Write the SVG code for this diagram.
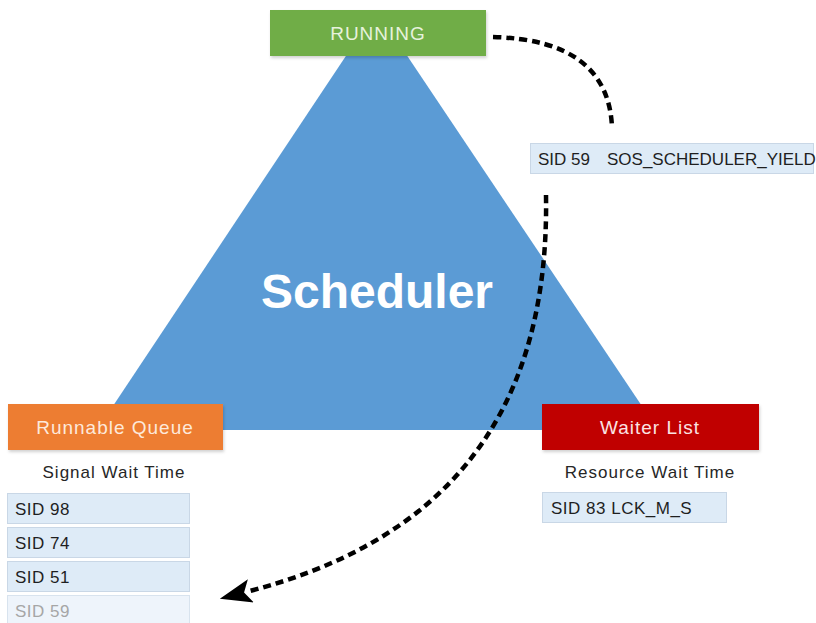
<svg xmlns="http://www.w3.org/2000/svg" width="816" height="623" viewBox="0 0 816 623">
<style>
  text { font-family: "Liberation Sans", Arial, sans-serif; }
  .hdr { font-size: 19px; letter-spacing: 1px; text-anchor: middle; }
  .cap { font-size: 17px; letter-spacing: 1px; fill: #262626; text-anchor: middle; }
  .sid { font-size: 17px; fill: #1f1f1f; letter-spacing: 0.5px; }
  .row { fill: #deebf7; stroke: #c9d7e6; stroke-width: 1; }
  .dash { fill: none; stroke: #000; stroke-width: 4.5; stroke-dasharray: 8 5; stroke-linecap: butt; }
</style>
<defs>
  <filter id="sh" x="-10%" y="-20%" width="120%" height="150%">
    <feDropShadow dx="1" dy="2" stdDeviation="1.5" flood-color="#000" flood-opacity="0.18"/>
  </filter>
  <marker id="arr" viewBox="0 0 32 24" refX="5" refY="12" markerWidth="32" markerHeight="24" markerUnits="userSpaceOnUse" orient="auto">
    <path d="M0,0 L32,12 L0,24 L7,12 z" fill="#000"/>
  </marker>
</defs>
<rect width="816" height="623" fill="#fff"/>

<g id="scheduler">
  <polygon points="376.5,10 97,430 658,430" fill="#5b9bd5"/>
  <text x="377" y="308" text-anchor="middle" font-size="48" font-weight="bold" fill="#fff">Scheduler</text>
</g>

<g id="running">
  <rect x="270" y="10" width="216" height="46" fill="#70ad47" filter="url(#sh)"/>
  <text class="hdr" x="378" y="40" fill="#e6f2dc" letter-spacing="0.5">RUNNING</text>
</g>

<g id="runnable-queue">
  <rect x="8" y="404" width="215" height="46" fill="#ed7d31" filter="url(#sh)"/>
  <text class="hdr" x="115" y="434" fill="#fde9db">Runnable Queue</text>
  <text class="cap" x="114" y="478">Signal Wait Time</text>
</g>

<g id="waiter-list">
  <rect x="542" y="404" width="217" height="46" fill="#c00000" filter="url(#sh)"/>
  <text class="hdr" x="650" y="434" fill="#fbe3e3">Waiter List</text>
  <text class="cap" x="650" y="478">Resource Wait Time</text>
</g>

<g id="sid98">
  <rect class="row" x="7.5" y="493.5" width="182" height="30"/>
  <text class="sid" x="15" y="515">SID 98</text>
</g>
<g id="sid74">
  <rect class="row" x="7.5" y="527.5" width="182" height="30"/>
  <text class="sid" x="15" y="549">SID 74</text>
</g>
<g id="sid51">
  <rect class="row" x="7.5" y="561.5" width="182" height="30"/>
  <text class="sid" x="15" y="583">SID 51</text>
</g>
<g id="sid59-queue">
  <rect x="7.5" y="595.5" width="182" height="30" fill="#eef4fb" stroke="#d8e3ee"/>
  <text class="sid" x="15" y="617" style="fill:#a6a6a6">SID 59</text>
</g>

<g id="sid83">
  <rect class="row" x="542.5" y="492.5" width="184" height="30"/>
  <text class="sid" x="551" y="514">SID 83 LCK_M_S</text>
</g>

<g id="sid59-yield">
  <rect class="row" x="530.5" y="143.5" width="283" height="30"/>
  <text class="sid" x="538" y="165" font-size="16.5" style="letter-spacing:0">SID 59<tspan x="607">SOS_SCHEDULER_YIELD</tspan></text>
</g>

<g id="connectors">
  <path class="dash" d="M493,37 Q608,40 612,127"/>
  <path class="dash" d="M546,195 C550,430 430,545 246,592" marker-end="url(#arr)"/>
</g>
</svg>
